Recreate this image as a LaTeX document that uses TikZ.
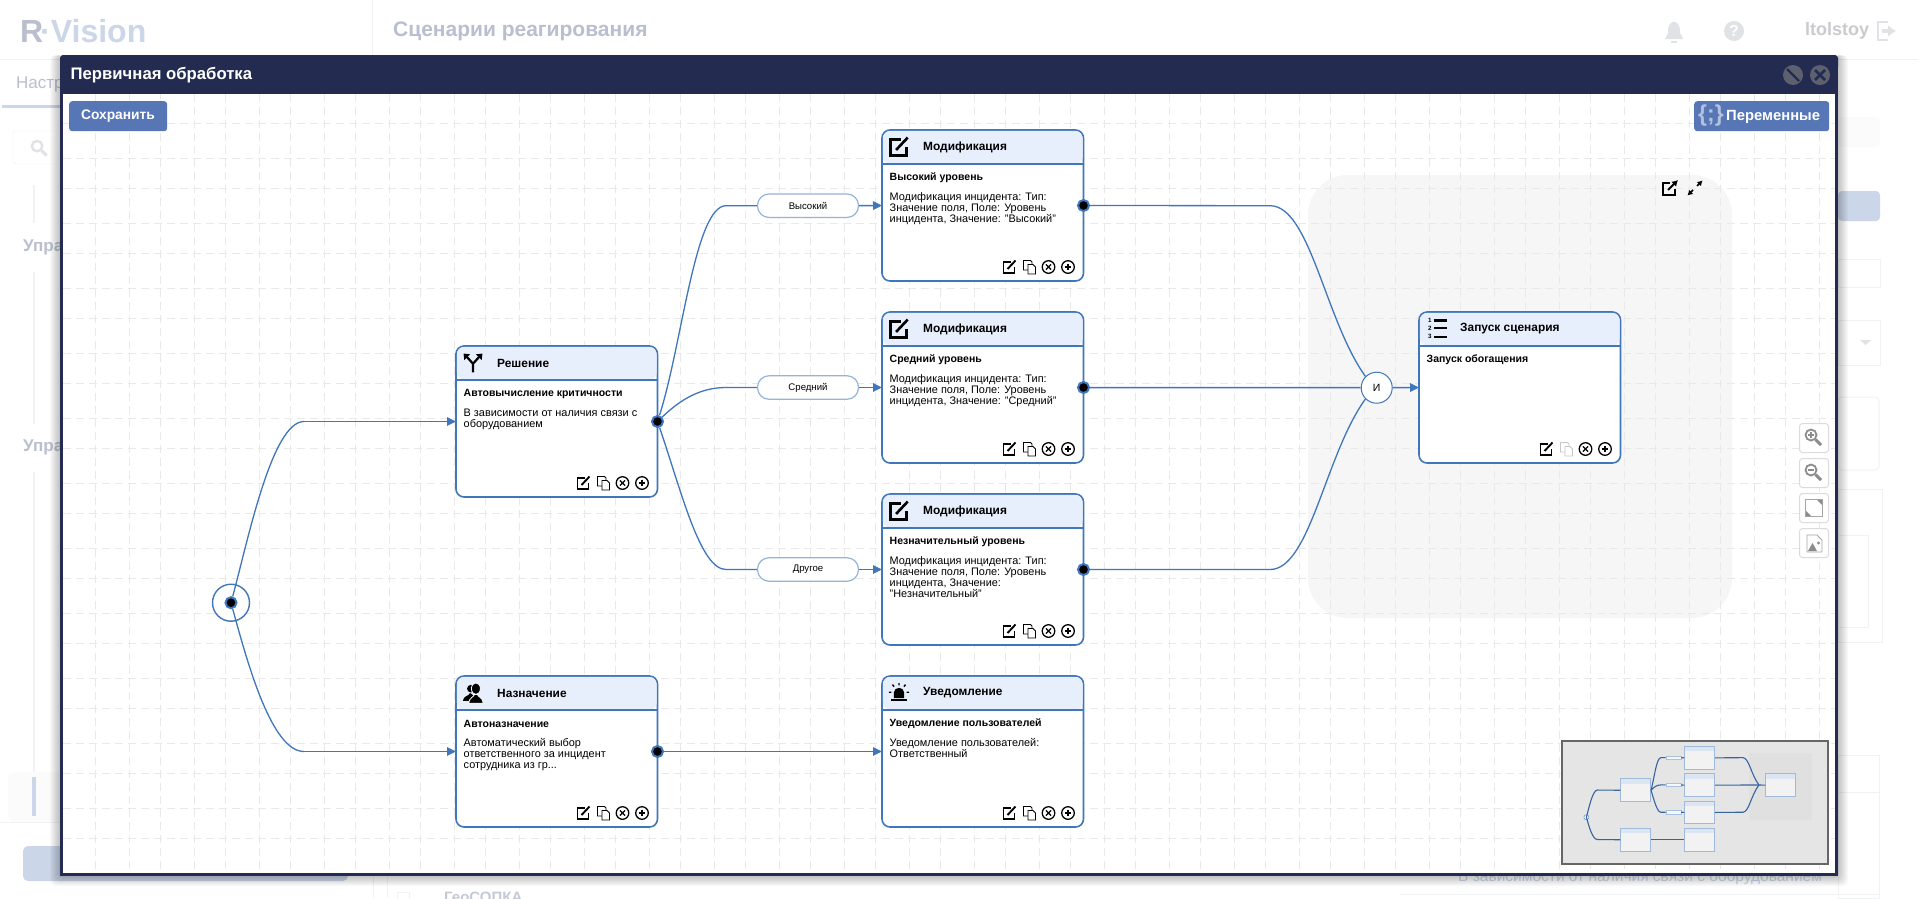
\documentclass[tikz,border=0pt]{standalone}
\usepackage{fontspec}
\setmainfont{Liberation Sans}
\usetikzlibrary{arrows.meta}
\definecolor{navy}{HTML}{232C50}
\definecolor{flowblue}{HTML}{3F76BC}
\definecolor{headfill}{HTML}{E8EFFC}
\definecolor{btnblue}{HTML}{5676B5}
\definecolor{fadeblue}{HTML}{CBD6E9}
\definecolor{fadegrey}{HTML}{B9BFCE}
\definecolor{fadeicon}{HTML}{E0E2E5}
\definecolor{fadeline}{HTML}{F1F2F4}
\definecolor{gridgrey}{HTML}{E9E9E9}
\definecolor{groupgrey}{HTML}{F6F6F6}
\definecolor{toolgrey}{HTML}{8C8C8C}
\newcommand{\pxfont}[1]{\fontsize{#1}{#1}\selectfont}
\newcommand{\stepcard}[8][black]{%
\node[card] (#2) at (#3,#4) {};
\fill[headfill,rounded corners=8pt] ({#3+.8},{#4+34}) -- ({#3+.8},{#4+.8}) -- ({#3+200.7},{#4+.8}) -- ({#3+200.7},{#4+34}) -- cycle;
\draw[flowblue,line width=1.6pt] (#3,{#4+34}) -- ({#3+201.5},{#4+34});
\pic[line width=2.6pt,scale=1.45] at ({#3+17},{#4+17}) {#5};
\node[cardtitle] (#2t) at ({#3+41},{#4+17}) {#6};
\node[cardsub] (#2s) at ({#3+7.5},{#4+48}) {#7};
\node[cardbody] (#2b) at ({#3+7.5},{#4+62.5}) {#8};
\pic[line width=1.9pt] at ({#3+127.5},{#4+137}) {editicon};
\pic[draw=#1,line width=.8pt] at ({#3+147.5},{#4+137}) {copyicon};
\pic[line width=1.3pt] at ({#3+166.5},{#4+137}) {closeicon};
\pic[line width=1.3pt] at ({#3+186},{#4+137}) {plusicon};
}
\newcommand{\mapcard}[3]{%
\node[mapnode] (#1) at (#2,#3) {};
\fill[maphead] (#2,#3) rectangle ({#2+201.5},{#3+34});
\draw[mapline,line width=.7pt,draw=flowblue!50] (#2,#3) rectangle ({#2+201.5},{#3+151});
}
\begin{document}
\begin{tikzpicture}[x=1pt,y=-1pt,
card/.style = {
draw=flowblue,
fill=white,
line width=1.6pt,
rounded corners=8pt,
anchor=north west,
minimum width=201.5pt,
minimum height=151pt,
outer sep=0pt,
inner sep=0pt},
cardtitle/.style = {anchor=west,inner sep=0pt,font=\pxfont{11.9}\bfseries},
cardsub/.style = {anchor=west,inner sep=0pt,font=\pxfont{10.5}\bfseries},
cardbody/.style = {anchor=north west,inner sep=0pt,align=left,font=\fontsize{10.9}{11}\selectfont},
flow/.style = {flowblue,line width=1.3pt},
flowarrow/.style = {flowblue,line width=1.5pt,-{Triangle[length=9pt,width=8.5pt]}},
port/.style = {circle,fill=black,draw=flowblue,line width=2pt,minimum size=11pt,inner sep=0pt},
pill/.style = {draw=flowblue!55,line width=1.2pt,fill=white,rounded corners=11.5pt,minimum width=101pt,minimum height=23.5pt,inner sep=0pt,font=\pxfont{9.6}},
gridline/.style = {gridgrey,line width=1pt,dash pattern=on 8pt off 5pt},
btn/.style = {fill=btnblue,rounded corners=3pt,inner sep=0pt,anchor=north west},
btntext/.style = {text=white,inner sep=0pt,font=\pxfont{13.8}\bfseries},
faded/.style = {text=fadegrey,inner sep=0pt,anchor=west,font=\pxfont{17}\bfseries},
toolbtn/.style = {draw=black!14,fill=white,line width=1pt,rounded corners=3pt,minimum size=29pt,inner sep=0pt},
mapnode/.style = {anchor=north west,fill=black!5,minimum width=30.3pt,minimum height=22.7pt,inner sep=0pt},
maphead/.style = {fill=flowblue!18},
mapline/.style = {flowblue!85!black,line width=1.1pt},
editicon/.pic = {
\draw[pic actions] (1.5,-5) -- (-6,-5) -- (-6,6) -- (5,6) -- (5,0);
\draw[pic actions] (-2,2) -- (6,-6.5);
},
copyicon/.pic = {
\draw[pic actions,fill=white] (-6,-6.5) -- (1,-6.5) -- (2.5,-5) -- (2.5,3) -- (-6,3) -- cycle;
\draw[pic actions,fill=white] (-1.5,-2.5) -- (3.5,-2.5) -- (6,0) -- (6,7) -- (-1.5,7) -- cycle;
},
closeicon/.pic = {
\draw[pic actions] (0,0) circle (6.3);
\draw[pic actions] (-2.6,-2.6) -- (2.6,2.6) (-2.6,2.6) -- (2.6,-2.6);
},
plusicon/.pic = {
\draw[pic actions] (0,0) circle (6.3);
\draw[pic actions] (-3.4,0) -- (3.4,0) (0,-3.4) -- (0,3.4);
},
forkicon/.pic = {
\draw[line width=2.2pt] (0,6.5) -- (0,.5) -- (-4.5,-4.5) (0,.5) -- (4.5,-4.5);
\fill (-6.5,-6.5) -- (-2,-6) -- (-6,-2) -- cycle;
\fill (6.5,-6.5) -- (2,-6) -- (6,-2) -- cycle;
},
peopleicon/.pic = {
\fill (-1.5,-3) circle (2.6);
\fill (-7,5.5) .. controls (-6.5,1.5) and (-3,2.5) .. (-2,0) -- (0,1.5) -- (0,5.5) -- cycle;
\draw[white,line width=.8pt,fill=black] (2,-3) ellipse (3.1 and 4);
\draw[white,line width=.8pt,fill=black] (-3,7) .. controls (-2.6,3) and (.5,3) .. (1,1) -- (3,1) .. controls (3.5,3) and (7,3) .. (7,7) -- cycle;
},
alarmicon/.pic = {
\fill (-3.5,3.5) -- (-3.5,-.5) .. controls (-3.5,-4.5) and (3.5,-4.5) .. (3.5,-.5) -- (3.5,3.5) -- cycle;
\fill (-5.5,3.8) rectangle (5.5,5.8);
\draw[line width=1.4pt] (-7,-.5) -- (-5.2,-.5) (7,-.5) -- (5.2,-.5) (0,-6.8) -- (0,-5.2) (-4.5,-5.8) -- (-3.4,-4.4) (4.5,-5.8) -- (3.4,-4.4);
},
listicon/.pic = {
\draw[line width=2.4pt] (-1.4,-6) -- (7.5,-6) (-1.4,-.7) -- (7.5,-.7) (-1.4,5.5) -- (7.5,5.5);
\node[inner sep=0pt,font=\pxfont{6.2}\bfseries] (nA) at (-4.2,-6) {1};
\node[inner sep=0pt,font=\pxfont{6.2}\bfseries] (nB) at (-4.2,-.7) {2};
\node[inner sep=0pt,font=\pxfont{6.2}\bfseries] (nC) at (-4.2,5) {3};
},
lensicon/.pic = {
\draw[pic actions] (-2,-2) circle (5.5);
\draw[pic actions,line width=3pt] (2.5,2.5) -- (8,8);
}
]
\useasboundingbox (0,0) rectangle (1918,898);
\clip (0,0) rectangle (1918,898);
\fill[white] (0,0) rectangle (1918,898);
%
% page behind the window
\node[inner sep=0pt,anchor=west,text=fadegrey,font=\pxfont{32}\bfseries] (logoR) at (20,31) {R};
\node[inner sep=0pt,anchor=west,text=fadeblue,font=\pxfont{32}\bfseries] (logoV) at (40,31) {·Vision};
\node[faded,font=\pxfont{21}\bfseries] (pageTitle) at (393,31.5) {Сценарии реагирования};
\node[faded,font=\pxfont{17}] (tabText) at (16,84) {Настр};
\node[faded] (upra1) at (23,247.5) {Упра};
\node[faded] (upra2) at (23,447.5) {Упра};
\draw[fadeline,line width=1pt] (372,0) -- (372,55) (0,59.5) -- (60,59.5) (1838,59.5) -- (1918,59.5);
\draw[fadeblue,line width=3pt] (2,106) -- (60,106);
\draw[fadeline,rounded corners=3pt,fill=white] (13,131) rectangle (70,164);
\pic[draw=fadeicon,line width=2.4pt,scale=.95] at (39,148) {lensicon};
\draw[fadeline,line width=2pt] (33.5,185) -- (33.5,223) (33.5,272) -- (33.5,424) (33.5,472) -- (33.5,773);
\fill[black!1.5,rounded corners=8pt] (8,772) rectangle (70,822);
\fill[fadeblue] (32,777) rectangle (36,816);
\draw[fadeline] (0,822) -- (60,822);
\fill[fadeblue,rounded corners=5pt] (23,846) rectangle (348,881);
\draw[fadeline,line width=1pt] (373,875) -- (373,898) (387,875) -- (387,898);
\draw[fadeline,line width=1pt] (397,892) rectangle (409,910);
\node[faded,font=\pxfont{15}\bfseries,text=fadegrey!85] (geoText) at (444,897) {ГеоСОПКА};
\fill[fadeicon] (1665,39) -- (1683,39) -- (1680,33) .. controls (1681,18) and (1667,18) .. (1668,33) -- cycle;
\fill[fadeicon] (1671,41) rectangle (1677,43);
\node[circle,fill=fadeicon,text=white,minimum size=20pt,inner sep=0pt,font=\pxfont{16}\bfseries] (helpIcon) at (1734,31) {?};
\node[faded,font=\pxfont{18}\bfseries,text=fadeicon!90!black] (userName) at (1805,31) {ltolstoy};
\draw[fadeicon,line width=2.4pt] (1888,22) -- (1878,22) -- (1878,40) -- (1888,40);
\draw[fadeicon,line width=4pt,-{Latex[length=8pt,width=12pt]}] (1882,31) -- (1896,31);
\fill[black!1.5,rounded corners=4pt] (1838,117) rectangle (1880,147);
\fill[fadeblue,rounded corners=4pt] (1838,191) rectangle (1880,221);
\draw[fadeline,line width=1pt] (1838,259) rectangle (1880,287);
\draw[fadeline,line width=1pt] (1838,320) rectangle (1880,365);
\fill[fadeicon] (1860,340) -- (1871,340) -- (1865.5,345) -- cycle;
\draw[fadeline,line width=1pt,rounded corners=4pt] (1838,397) rectangle (1879,470);
\draw[fadeline,line width=1pt] (1838,489) rectangle (1882,642);
\draw[fadeline,line width=1pt] (1838,535) rectangle (1868,627);
\draw[fadeline,line width=1pt] (1838,755) rectangle (1879,898);
\draw[fadeline,line width=1pt] (1838,792) -- (1879,792);
\node[inner sep=0pt,anchor=west,text=fadeblue,font=\pxfont{15.5}] (pageText) at (1458,877) {В зависимости от наличия связи с оборудованием};
\draw[fadeline,line width=1pt] (1400,894) -- (1879,894);
%
% window
\foreach \s in {1,...,10}
\fill[black,opacity=.022,rounded corners=5pt] ({60-\s},55) rectangle ({1838+\s},{876+\s});
\fill[white] (60,55) rectangle (1838,876);
\fill[groupgrey,rounded corners=40pt] (1308,175) rectangle (1732,618);
\foreach \x in {95,160,...,1800} \draw[gridline] (\x,94) -- (\x,873);
\foreach \x in {129,194,...,1830} \draw[gridline] (\x,94) -- (\x,873);
\foreach \y in {123,188,...,870} \draw[gridline] (63,\y) -- (1836,\y);
\foreach \y in {158,223,...,870} \draw[gridline] (63,\y) -- (1836,\y);
\draw[navy,line width=3pt] (61.5,94) -- (61.5,874.5) -- (1836.5,874.5) -- (1836.5,94);
\fill[navy,rounded corners=3pt] (60,55) rectangle (1838,70);
\fill[navy] (60,62) rectangle (1838,94);
\node[inner sep=0pt,anchor=west,text=white,font=\pxfont{16.7}\bfseries] (winTitle) at (70.5,75.5) {Первичная обработка};
\node[circle,fill=black!38!navy!70!white,minimum size=20pt,inner sep=0pt] (winMin) at (1793,75) {};
\node[circle,fill=black!38!navy!70!white,minimum size=20pt,inner sep=0pt] (winClose) at (1820,75) {};
\draw[navy,line width=2.4pt] (1787,69) -- (1799,81);
\draw[navy,line width=2.6pt] (1815,70) -- (1825,80) (1815,80) -- (1825,70);
\node[btn,minimum width=98pt,minimum height=30pt] (saveBtn) at (69,101) {};
\node[btntext] (saveText) at (118,116.5) {Сохранить};
\node[btn,minimum width=135pt,minimum height=30pt] (varBtn) at (1694,101) {};
\node[inner sep=0pt,text=btnblue!45!white,font=\pxfont{23}\bfseries] (varIcon) at (1711,116) {\{;\}};
\node[btntext,anchor=west,font=\pxfont{14.8}\bfseries] (varText) at (1726,116.5) {Переменные};
%
% group corner icons
\draw[line width=2pt] (1670,182.5) -- (1663,182.5) -- (1663,195) -- (1675,195) -- (1675,189);
\draw[line width=2pt,-{Latex[length=6pt,width=7pt]}] (1668,190) -- (1678,180);
\draw[line width=1.6pt,-{Latex[length=5pt,width=6pt]}] (1697,186) -- (1702.5,180.5);
\draw[line width=1.6pt,-{Latex[length=5pt,width=6pt]}] (1693,190) -- (1687.5,195.5);
%
% steps
\stepcard{nSol}{456}{346}{forkicon}{Решение}{Автовычисление критичности}{В зависимости от наличия связи с\\оборудованием}
\stepcard{nHigh}{882}{130}{editicon}{Модификация}{Высокий уровень}{Модификация инцидента: Тип:\\Значение поля, Поле: Уровень\\инцидента, Значение: "Высокий"}
\stepcard{nMid}{882}{312}{editicon}{Модификация}{Средний уровень}{Модификация инцидента: Тип:\\Значение поля, Поле: Уровень\\инцидента, Значение: "Средний"}
\stepcard{nLow}{882}{494}{editicon}{Модификация}{Незначительный уровень}{Модификация инцидента: Тип:\\Значение поля, Поле: Уровень\\инцидента, Значение:\\"Незначительный"}
\stepcard{nAss}{456}{676}{peopleicon}{Назначение}{Автоназначение}{Автоматический выбор\\ответственного за инцидент\\сотрудника из гр...}
\stepcard{nNote}{882}{676}{alarmicon}{Уведомление}{Уведомление пользователей}{Уведомление пользователей:\\Ответственный}
\stepcard[black!22]{nRun}{1419}{312}{listicon}{Запуск сценария}{Запуск обогащения}{}
%
\node[pill] (lHigh) at (808,205.7) {Высокий};
\node[pill] (lMid) at (808,387.5) {Средний};
\node[pill] (lLow) at (808,569.5) {Другое};
\node[circle,draw=flowblue,fill=white,line width=1pt,minimum size=31pt,inner sep=0pt,font=\pxfont{10.5}] (nAnd) at (1376.7,387.7) {И};
\node[circle,draw=flowblue,fill=white,line width=1.4pt,minimum size=37pt,inner sep=0pt] (nStart) at (231,602.7) {};
\node[port] (pStart) at (nStart) {};
\node[port] (pSol) at (nSol.east) {};
\node[port] (pHigh) at (nHigh.east) {};
\node[port] (pMid) at (nMid.east) {};
\node[port] (pLow) at (nLow.east) {};
\node[port] (pAss) at (nAss.east) {};
%
\draw[flow] (pStart) .. controls (248,540) and (272,421.5) .. (304,421.5) coordinate (cSol);
\draw[flowarrow] (cSol) -- (nSol.west);
\draw[flow] (pStart) .. controls (248,665) and (272,751.5) .. (304,751.5) coordinate (cAss);
\draw[flowarrow] (cAss) -- (nAss.west);
\draw[flow] (pSol) .. controls (682,345) and (695,205.7) .. (726,205.7) -- (lHigh.west);
\draw[flow] (pSol) .. controls (680,400) and (700,387.5) .. (726,387.5) -- (lMid.west);
\draw[flow] (pSol) .. controls (681,490) and (700,569.5) .. (726,569.5) -- (lLow.west);
\draw[flowarrow] (lHigh.east) -- (nHigh.west);
\draw[flowarrow] (lMid.east) -- (nMid.west);
\draw[flowarrow] (lLow.east) -- (nLow.west);
\draw[flow] (pHigh) -- (1270,205.7) .. controls (1310,205.7) and (1325,320) .. (nAnd.north west);
\draw[flowarrow,-] (pMid) -- (nAnd.west);
\draw[flow] (pLow) -- (1270,569.5) .. controls (1310,569.5) and (1325,455) .. (nAnd.south west);
\draw[flowarrow] (nAnd.east) -- (nRun.west);
\draw[flowarrow] (pAss) -- (nNote.west);
%
% zoom tools
\node[toolbtn] (tIn) at (1814,438) {};
\node[toolbtn] (tOut) at (1814,473) {};
\node[toolbtn] (tFit) at (1814,508) {};
\node[toolbtn] (tPic) at (1814,543) {};
\pic[draw=toolgrey,line width=1.8pt] at (1813,437) {lensicon};
\draw[toolgrey,line width=1.4pt] (1808,435) -- (1814,435) (1811,432) -- (1811,438);
\pic[draw=toolgrey,line width=1.8pt] at (1813,472) {lensicon};
\draw[toolgrey,line width=1.4pt] (1808,470) -- (1814,470);
\draw[black!35,line width=.8pt] (1805.5,499.5) rectangle (1822.5,516.5);
\fill[toolgrey] (1817,500) -- (1822,500) -- (1822,505) -- cycle;
\fill[toolgrey] (1806,511) -- (1806,516) -- (1811,516) -- cycle;
\draw[black!35,line width=.8pt] (1807,535) -- (1817,535) -- (1822,540) -- (1822,552) -- (1807,552) -- cycle;
\fill[toolgrey] (1808,551) -- (1812.5,543) -- (1817,551) -- cycle;
\fill[toolgrey] (1818.5,543) circle (1.6);
%
% overview map
\node[draw=black!60,fill=black!10,line width=1.6pt,anchor=north west,minimum width=266.5pt,minimum height=123.5pt,inner sep=0pt,outer sep=0pt] (mapFrame) at (1561.7,740.7) {};
\begin{scope}[shift={(1551.6,726.8)},xscale=.1506,yscale=.15]
\fill[black!12] (1308,175) rectangle (1732,618);
\mapcard{mSol}{456}{346}
\mapcard{mHigh}{882}{130}
\mapcard{mMid}{882}{312}
\mapcard{mLow}{882}{494}
\mapcard{mAss}{456}{676}
\mapcard{mNote}{882}{676}
\mapcard{mRun}{1419}{312}
\node[draw=flowblue!45,fill=black!3,line width=.5pt,minimum width=15pt,minimum height=3.5pt,inner sep=0pt] (mlHigh) at (808,205.7) {};
\node[draw=flowblue!45,fill=black!3,line width=.5pt,minimum width=15pt,minimum height=3.5pt,inner sep=0pt] (mlMid) at (808,387.5) {};
\node[draw=flowblue!45,fill=black!3,line width=.5pt,minimum width=15pt,minimum height=3.5pt,inner sep=0pt] (mlLow) at (808,569.5) {};
\coordinate (mAnd) at (1376.7,387.7);
\node[circle,draw=flowblue,fill=white,line width=.4pt,minimum size=5pt,inner sep=0pt] (mStart) at (231,602.7) {};
\draw[mapline] (mStart.center) .. controls (248,540) and (272,421.5) .. (304,421.5) -- (mSol.west);
\draw[mapline] (mStart.center) .. controls (248,665) and (272,751.5) .. (304,751.5) -- (mAss.west);
\draw[mapline] (mSol.east) .. controls (682,345) and (695,205.7) .. (726,205.7) -- (mlHigh.west);
\draw[mapline] (mSol.east) .. controls (680,400) and (700,387.5) .. (726,387.5) -- (mlMid.west);
\draw[mapline] (mSol.east) .. controls (681,490) and (700,569.5) .. (726,569.5) -- (mlLow.west);
\draw[mapline] (mlHigh.east) -- (mHigh.west);
\draw[mapline] (mlMid.east) -- (mMid.west);
\draw[mapline] (mlLow.east) -- (mLow.west);
\draw[mapline] (mHigh.east) -- (1270,205.7) .. controls (1310,205.7) and (1325,320) .. (mAnd);
\draw[mapline] (mMid.east) -- (mAnd);
\draw[mapline] (mLow.east) -- (1270,569.5) .. controls (1310,569.5) and (1325,455) .. (mAnd);
\draw[mapline] (mAnd) -- (mRun.west);
\draw[mapline] (mAss.east) -- (mNote.west);
\fill[black] (mStart.center) circle (1pt);
\end{scope}
%
\end{tikzpicture}
\end{document}
